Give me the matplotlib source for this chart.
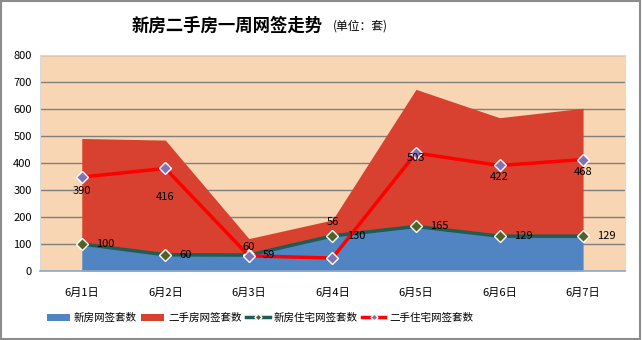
import matplotlib.pyplot as plt
import numpy as np
from matplotlib.patches import Rectangle

plt.rcParams['font.family'] = ['Noto Sans CJK SC', 'DejaVu Sans']

days = ['6月1日', '6月2日', '6月3日', '6月4日', '6月5日', '6月6日', '6月7日']
xinfang = [100, 60, 59, 130, 165, 129, 129]
# 二手房面积高度按图读取, 标签按图上数字
ershou_area = [391, 425, 61, 59, 508, 439, 474]
ershou_label = [390, 416, 60, 56, 503, 422, 468]
xinfang_zz = [100, 60, 59, 130, 165, 129, 129]
ershou_zz = [348, 380, 56, 48, 437, 391, 413]

x = np.arange(len(days))
xinfang = np.array(xinfang)
ershou_area = np.array(ershou_area)

fig = plt.figure(figsize=(6.42, 3.40), dpi=100)
ax = fig.add_axes([0.0623, 0.203, 0.911, 0.635])
ax.set_facecolor('#F9D6B3')

ax.fill_between(x, 0, xinfang, color='#5084C2', lw=0, zorder=2, label='新房网签套数')
ax.fill_between(x, xinfang, xinfang + ershou_area, color='#D8412F', lw=0, zorder=2,
                label='二手房网签套数')
ax.plot(x, xinfang_zz, color='#1F5C52', lw=2.5, marker='D', ms=6,
        mfc='#4F6228', mec='white', mew=1, zorder=4, label='新房住宅网签套数')
ax.plot(x, ershou_zz, color='#FF0000', lw=2.5, marker='D', ms=6,
        mfc='#7F73B5', mec='white', mew=1, zorder=4, label='二手住宅网签套数')

# 数据标签
for i in range(len(days)):
    ax.text(x[i] + 0.17, xinfang[i], str(xinfang[i]), fontsize=8,
            ha='left', va='center', color='black', zorder=5)
    ypos = xinfang[i] + ershou_area[i] / 2
    if i == 3:
        ypos = xinfang[i] + ershou_area[i] - 8
    ax.text(x[i], ypos, str(ershou_label[i]), fontsize=8,
            ha='center', va='center', color='black', zorder=5)

ax.set_xlim(-0.5, 6.5)
ax.set_ylim(0, 800)
ax.set_yticks(range(0, 801, 100))
ax.set_xticks(x)
ax.set_xticklabels(days)
ax.tick_params(axis='y', labelsize=8, length=0, pad=6)
ax.tick_params(axis='x', labelsize=8, length=0, pad=12)
ax.yaxis.grid(True, color='#7F7F7F', lw=1, zorder=1)
ax.set_axisbelow(True)
for s in ['top', 'right', 'left']:
    ax.spines[s].set_color('#D9D9D9')
    ax.spines[s].set_linewidth(0.8)
ax.spines['bottom'].set_color('#8EA9C8')
ax.spines['bottom'].set_linewidth(1.2)

fig.text(0.503, 0.925, '新房二手房一周网签走势', fontsize=12.5, fontweight='bold',
         ha='right', va='center')
fig.text(0.518, 0.922, '(单位：套)', fontsize=8.5, ha='left', va='center')

ax.legend(loc='center', bbox_to_anchor=(0.405, 0.065), bbox_transform=fig.transFigure,
          ncol=4, frameon=False, fontsize=7.6, handlelength=2.2, handletextpad=0.4,
          columnspacing=0.4, markerscale=0.6)

fig.patches.append(Rectangle((0.002, 0.003), 0.995, 0.993, transform=fig.transFigure,
                             fill=False, edgecolor='#8C8C8C', lw=1.5))

fig.savefig('out.png', dpi=100)
